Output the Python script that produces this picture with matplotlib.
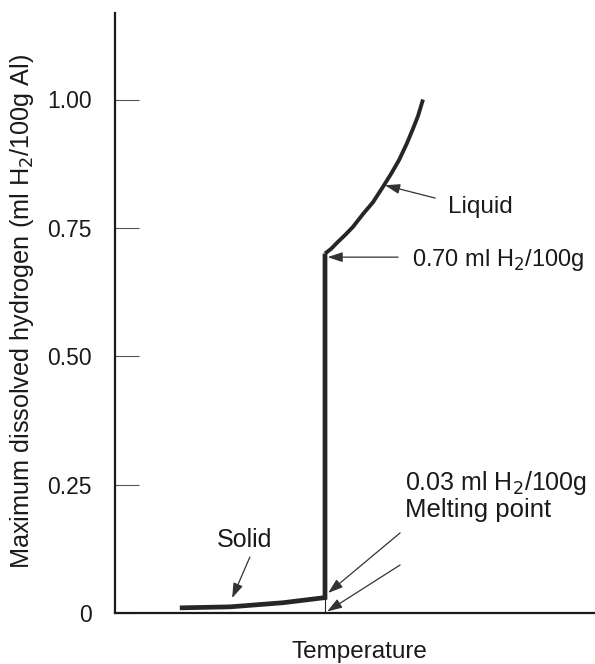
import matplotlib
matplotlib.use("Agg")
import matplotlib.pyplot as plt

plt.rcParams['font.family'] = ['Liberation Sans', 'DejaVu Sans']

# Data (temperature in arbitrary units, hydrogen in ml H2 / 100 g Al)
solid_T = [13.5, 24.0, 35.0, 43.75]
solid_H = [0.010, 0.012, 0.020, 0.030]
melt_T = 43.75
jump_H = [0.030, 0.700]
liquid_T = [43.75, 45.0, 46.25, 47.92, 49.58, 51.67, 53.75, 55.83, 57.5, 59.17,
            60.83, 62.08, 63.13, 64.17]
liquid_H = [0.700, 0.709, 0.721, 0.736, 0.752, 0.777, 0.800, 0.830, 0.855, 0.882,
            0.915, 0.943, 0.968, 1.000]

yticks = [0, 0.25, 0.50, 0.75, 1.00]
yticklabels = ['0', '0.25', '0.50', '0.75', '1.00']

fig = plt.figure(figsize=(5.95, 6.64), dpi=100)
ax = fig.add_axes([115/595, 51/664, 480/595, 600/664])
ax.set_xlim(0, 100)
ax.set_ylim(0, 600/513.5)

col = '#262626'
ax.plot(solid_T + [melt_T], solid_H + [jump_H[1]], color=col, lw=3.4,
        solid_joinstyle='miter', solid_capstyle='butt')
ax.plot(liquid_T, liquid_H, color=col, lw=2.8, solid_joinstyle='round',
        solid_capstyle='butt')
ax.plot([melt_T, melt_T], [0, solid_H[-1]], color=col, lw=0.8)

for s in ['top', 'right']:
    ax.spines[s].set_visible(False)
for s in ['left', 'bottom']:
    ax.spines[s].set_linewidth(1.6)
    ax.spines[s].set_color('#1a1a1a')

ax.set_xticks([])
ax.set_yticks(yticks)
ax.set_yticklabels(yticklabels)
ax.tick_params(axis='y', direction='in', length=17, width=0.8, color='#555555',
               labelsize=16.5, pad=17, labelcolor='#1a1a1a')

ax.set_ylabel('Maximum dissolved hydrogen (ml H$_2$/100g Al)', fontsize=18.2, color='#1a1a1a')
ax.yaxis.label.set_va('center')
ax.yaxis.set_label_coords((22-115)/480, (613-311)/600)
ax.set_xlabel('Temperature', fontsize=17.5, color='#1a1a1a')
ax.xaxis.set_label_coords((359-115)/480, -(652-613)/600)
ax.xaxis.label.set_va('center')

ap = dict(arrowstyle='-|>,head_length=0.9,head_width=0.3', color='#333333', lw=0.9,
          shrinkA=0, shrinkB=0)
tk = dict(color='#1a1a1a', ha='left', va='center')

ax.text(69.4, 0.790, 'Liquid', fontsize=17.5, **tk)
ax.annotate('', xy=(56.25, 0.833), xytext=(66.7, 0.808), arrowprops=ap)

ax.text(61.9, 0.687, '0.70 ml H$_2$/100g', fontsize=17, **tk)
ax.annotate('', xy=(44.3, 0.693), xytext=(58.96, 0.693), arrowprops=ap)

ax.text(60.4, 0.253, '0.03 ml H$_2$/100g', fontsize=18, **tk)
ax.annotate('', xy=(44.4, 0.039), xytext=(59.4, 0.156), arrowprops=ap)

ax.text(60.4, 0.200, 'Melting point', fontsize=18.5, **tk)
ax.annotate('', xy=(44.2, 0.003), xytext=(59.4, 0.0935), arrowprops=ap)

ax.text(21.25, 0.142, 'Solid', fontsize=18, **tk)
ax.annotate('', xy=(24.4, 0.029), xytext=(28.1, 0.109), arrowprops=ap)

fig.savefig('out.png', dpi=100)
